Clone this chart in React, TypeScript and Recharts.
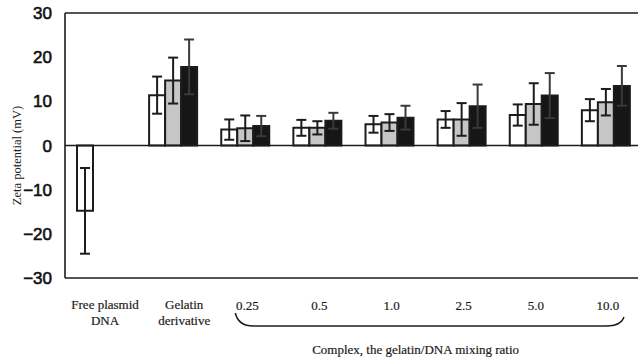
import { BarChart, Bar, XAxis, YAxis, ErrorBar, ReferenceLine } from "recharts"

// zeta potential per sample, mean and SD (mV); three bars per group
const categories = ["Free plasmid DNA", "Gelatin derivative", "0.25", "0.5", "1.0", "2.5", "5.0", "10.0"]
const tickLines = [["Free plasmid", "DNA"], ["Gelatin", "derivative"], ["0.25"], ["0.5"], ["1.0"], ["2.5"], ["5.0"], ["10.0"]]

const whiteMean = [-14.8, 11.4, 3.6, 4.0, 4.8, 5.9, 6.9, 8.0]
const whiteSd = [9.7, 4.2, 2.3, 1.8, 1.9, 1.9, 2.4, 2.5]
const grayMean = [null, 14.7, 3.9, 4.0, 5.2, 5.9, 9.4, 9.8]
const graySd = [null, 5.2, 2.9, 1.5, 1.9, 3.7, 4.7, 3.0]
const blackMean = [null, 17.8, 4.4, 5.6, 6.3, 8.9, 11.3, 13.5]
const blackSd = [null, 6.2, 2.3, 1.8, 2.7, 4.9, 5.1, 4.5]

const yTicks = [-30, -20, -10, 0, 10, 20, 30]
const complexTitle = "Complex, the gelatin/DNA mixing ratio"

const data = categories.map((name, i) => ({
  name,
  white: whiteMean[i],
  whiteSd: whiteSd[i],
  gray: grayMean[i],
  graySd: graySd[i],
  black: blackMean[i],
  blackSd: blackSd[i],
}))

const CHART_W = 642
const CHART_H = 362
const Y_AXIS_W = 65
const X_AXIS_H = 84
const PLOT_BOTTOM = CHART_H - X_AXIS_H
const BAND = (CHART_W - Y_AXIS_W) / categories.length

const INK = "#1c1c1c"
const serif = "'Liberation Serif', 'Times New Roman', serif"

function CategoryTick(props: any) {
  const { x, index } = props
  const lines = tickLines[index] || []
  const single = lines.length === 1
  return (
    <g>
      {lines.map((t, k) => (
        <text
          key={k}
          x={x + (index === 0 ? 4 : index === 1 ? 11 : 2)}
          y={PLOT_BOTTOM + (single ? 32 : 31 + k * 16)}
          textAnchor="middle"
          fontFamily={serif}
          fontSize={13}
          fill={INK}
          stroke={INK}
          strokeWidth={0.2}
        >
          {t}
        </text>
      ))}
      {index === 2 && <ComplexBrace x={x} />}
    </g>
  )
}

// curly brace grouping the complex ratios, plus its caption
function ComplexBrace({ x }: { x: number }) {
  const sx = x - 10
  const ex = x + 5 * BAND + 18
  const top = PLOT_BOTTOM + 35
  const flat = PLOT_BOTTOM + 48
  const d = `M${sx},${top} Q${sx + 3},${flat} ${sx + 18},${flat} L${ex - 18},${flat} Q${ex - 3},${flat} ${ex},${top + 4}`
  return (
    <g>
      <path d={d} fill="none" stroke={INK} strokeWidth={1.5} />
      <text
        x={(sx + ex) / 2 - 14}
        y={PLOT_BOTTOM + 76}
        textAnchor="middle"
        fontFamily={serif}
        fontSize={13}
        fill={INK}
        stroke={INK}
        strokeWidth={0.2}
      >
        {complexTitle}
      </text>
    </g>
  )
}

function YLabel(props: any) {
  const vb = props.viewBox || { x: 0, y: 0, height: 0 }
  return (
    <text
      transform={`translate(${vb.x + 21}, ${vb.y + vb.height / 2 + 10}) rotate(-90)`}
      textAnchor="middle"
      fontFamily={serif}
      fontSize={12.5}
      fill={INK}
    >
      Zeta potential (mV)
    </text>
  )
}

const formatY = (v: number) => (v < 0 ? `\u2212${Math.abs(v)}` : `${v}`)

export default function App() {
  return (
    <div style={{ position: "absolute", left: 0, top: 0, width: 638, height: 362, overflow: "hidden", background: "#fff" }}>
      <BarChart
        width={CHART_W}
        height={CHART_H}
        data={data}
        margin={{ top: 13, right: 0, bottom: 0, left: 0 }}
        barSize={16}
        barGap={0}
      >
        <XAxis
          dataKey="name"
          height={X_AXIS_H}
          interval={0}
          tickLine={false}
          axisLine={{ stroke: INK, strokeWidth: 1.6 }}
          tick={<CategoryTick />}
        />
        <YAxis
          width={Y_AXIS_W}
          domain={[-30, 30]}
          ticks={yTicks}
          interval={0}
          tickLine={false}
          tickMargin={7}
          tickFormatter={formatY}
          axisLine={{ stroke: INK, strokeWidth: 1.6 }}
          tick={{ fill: "#111", stroke: "#111", strokeWidth: 0.6, fontSize: 17, fontFamily: "'Liberation Sans', Arial, sans-serif" }}
          label={<YLabel />}
        />
        <ReferenceLine y={30} stroke={INK} strokeWidth={1.6} />
        <ReferenceLine y={0} stroke={INK} strokeWidth={1.5} />
        <Bar dataKey="white" fill="#ffffff" stroke={INK} strokeWidth={2} isAnimationActive={false}>
          <ErrorBar dataKey="whiteSd" width={5} stroke={INK} strokeWidth={2} direction="y" />
        </Bar>
        <Bar dataKey="gray" fill="#c6c6c6" stroke={INK} strokeWidth={2} isAnimationActive={false}>
          <ErrorBar dataKey="graySd" width={5} stroke={INK} strokeWidth={2} direction="y" />
        </Bar>
        <Bar dataKey="black" fill="#161616" stroke={INK} strokeWidth={2} isAnimationActive={false}>
          <ErrorBar dataKey="blackSd" width={5} stroke="#3a3a3a" strokeWidth={2} direction="y" />
        </Bar>
      </BarChart>
    </div>
  )
}
